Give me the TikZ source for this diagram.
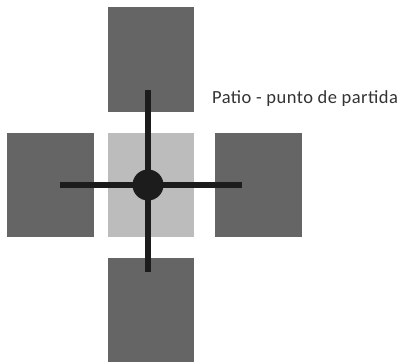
\documentclass[tikz,border=0pt]{standalone}
\usepackage{fontspec}
\setmainfont{Carlito}
\tikzset{
  dark/.style={fill=darkgray0, draw=none},
  light/.style={fill=lightgray0, draw=none},
  bar/.style={draw=black0, line width=6pt},
}
\definecolor{darkgray0}{HTML}{666565}
\definecolor{lightgray0}{HTML}{BDBCBC}
\definecolor{black0}{HTML}{1C1C1C}
\begin{document}
\begin{tikzpicture}[x=1pt,y=1pt]
\useasboundingbox (0,0) rectangle (400,363);
% squares (y measured from top: y = 363 - ypx)
\path[dark] (108,363-7) rectangle (194,363-112);
\path[dark] (7,363-133) rectangle (94,363-237);
\path[light] (108,363-133) rectangle (194,363-237);
\path[dark] (215,363-133) rectangle (302,363-237);
\path[dark] (108,363-258) rectangle (194,363-362);
% cross
\coordinate (n) at (148,363-90);
\coordinate (s) at (148,363-272);
\coordinate (w) at (60,363-185);
\coordinate (e) at (242,363-185);
\draw[bar] (n) -- (s);
\draw[bar] (w) -- (e);
\node[circle, fill=black0, minimum size=31pt, inner sep=0pt] (c) at (148,363-185) {};
\node[anchor=base west, inner sep=0pt, text=black!80, font=\fontsize{18.5}{22}\selectfont\addfontfeature{LetterSpace=2.5}] (t) at (212,363-103.5) {Patio - punto de partida};
\end{tikzpicture}
\end{document}
